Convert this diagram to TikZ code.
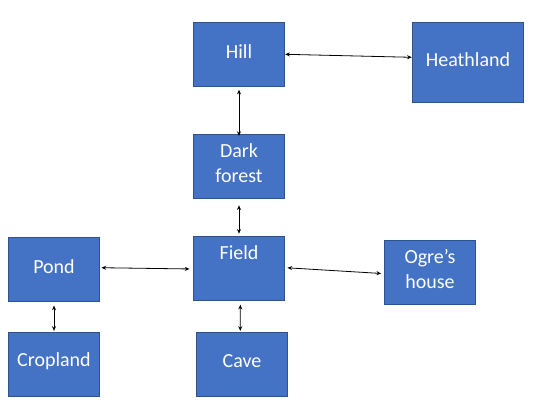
\documentclass[tikz,border=0pt]{standalone}
\usepackage{fontspec}
\setmainfont{Carlito}
\usetikzlibrary{arrows.meta}
\definecolor{boxfill}{HTML}{4472C4}
\definecolor{boxline}{HTML}{2F528F}
\tikzset{
  txt/.style={text=white, inner sep=0pt, align=center, yshift=2.25pt,
    font=\fontsize{15}{18.75}\selectfont},
  box/.style={draw=boxline, fill=boxfill, line width=0.75pt,
    minimum width=68.5pt, minimum height=48pt, inner sep=0pt,
    label={[txt]center:#1}},
  conn/.style={{Stealth[length=3.5pt,width=3pt]}-{Stealth[length=3.5pt,width=3pt]}, line width=0.6pt, black}
}
\begin{document}
\begin{tikzpicture}[x=0.75pt,y=-0.75pt]
\useasboundingbox (0,0) rectangle (554,407);
\node[box={Hill}] (hill) at (239,54.3) {};
\node[box={Heathland}, minimum width=83.5pt, minimum height=60pt] (heath) at (468,62.3) {};
\node[box={Dark\\forest}] (dark) at (239,166.5) {};
\node[box={Pond}] (pond) at (54,269.3) {};
\node[box={Field\\\phantom{x}}] (field) at (239,268.2) {};
\node[box={Ogre’s\\house}] (ogre) at (430,272.3) {};
\node[box={Cropland}] (crop) at (54,364.3) {};
\node[box={Cave}] (cave) at (242,364.3) {};

\draw[conn] (hill.east) -- ([yshift=3.75pt]heath.west);
\draw[conn, shorten <=2.2pt, shorten >=-1.5pt] (hill.south) -- (dark.north);
\draw[conn, shorten <=4.7pt, shorten >=1.5pt] (dark.south) -- (field.north);
\draw[conn, shorten <=1pt, shorten >=2.5pt] ([yshift=1.2pt]pond.east) -- ([yshift=-0.6pt]field.west);
\draw[conn, shorten <=1.7pt, shorten >=2pt] ([yshift=0.4pt]field.east) -- ([yshift=-1pt]ogre.west);
\draw[conn, shorten <=2.8pt, shorten >=0.7pt] (pond.south) -- (crop.north);
\draw[conn, shorten <=3pt, shorten >=0.7pt] ([xshift=1pt]field.south) -- ([xshift=-1.3pt]cave.north);
\end{tikzpicture}
\end{document}
